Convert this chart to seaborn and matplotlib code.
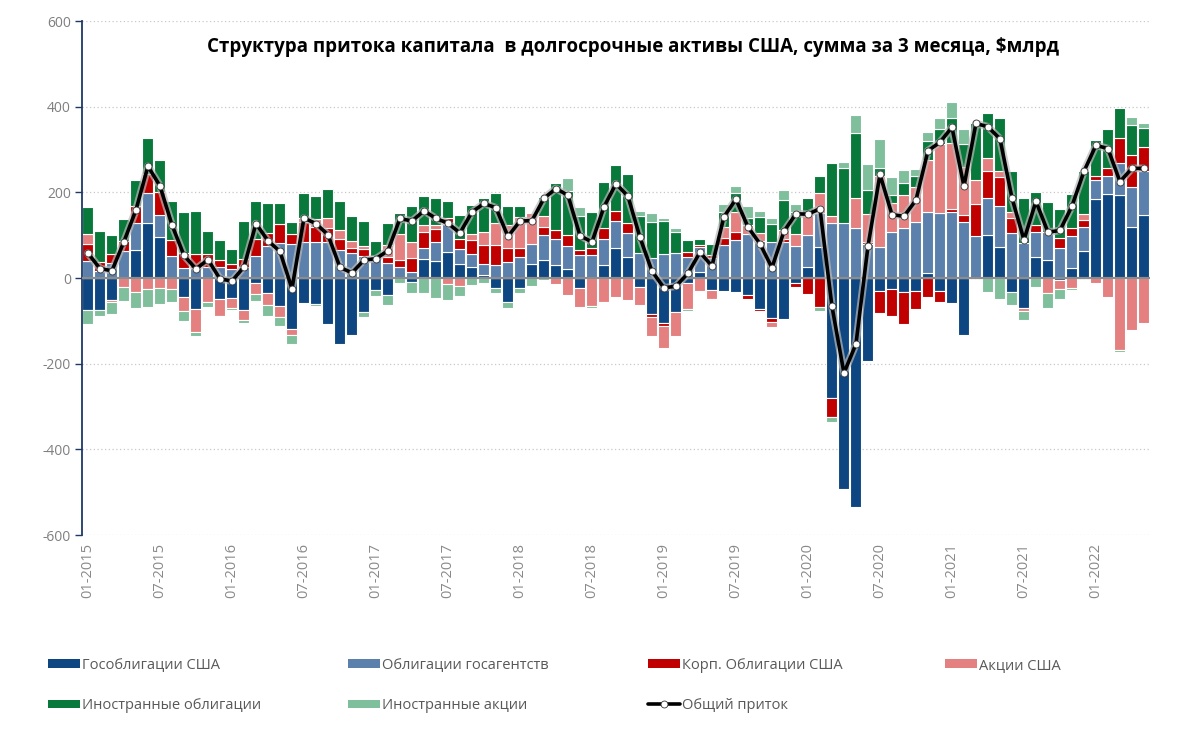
import numpy as np
import pandas as pd
import matplotlib
matplotlib.use("Agg")
import matplotlib.pyplot as plt
from matplotlib.patches import Patch
from matplotlib.lines import Line2D
import seaborn as sns

# monthly data, 3-month sums, $bn (01-2015 .. 05-2022)
months = pd.date_range("2015-01-01", periods=89, freq="MS").strftime("%m-%Y").tolist()

ust = [-74, -75, -51, 0, 65, 129, 95, 0, -45, -72,
       0, -50, -47, -75, -11, -36, -65, -120, -58, -61,
       -108, -155, -133, -80, -28, -40, 0, -10, 44, 40,
       61, 33, 26, 7, -24, -55, -24, 33, 42, 30,
       20, -24, 0, 30, 69, 50, -22, -84, -106, -79,
       -12, 15, -28, -30, -32, -40, -73, -94, -96, -12,
       26, 73, -280, -493, -534, -193, -30, -26, -32, -30,
       12, -30, -58, -133, 0, 100, 73, -32, -70, 50,
       42, -5, 23, 64, 184, 195, 194, 120, 147]
agency = [40, 17, 34, 64, 64, 70, 52, 52, 23, 23,
          26, 26, 20, 26, 52, 75, 81, 79, 83, 83,
          83, 65, 59, 52, 52, 36, 26, 15, 25, 43,
          64, 35, 31, 26, 30, 38, 50, 47, 58, 60,
          54, 54, 54, 62, 64, 56, 58, 46, 56, 58,
          48, 58, 46, 78, 89, 103, 86, 85, 83, 75,
          74, 78, 129, 128, 116, 80, 73, 108, 116, 131,
          142, 151, 155, 131, 98, 86, 96, 104, 81, 58,
          65, 69, 74, 54, 45, 44, 75, 92, 103]
corp = [40, 20, 23, 23, 39, 43, 54, 37, 35, 33,
        29, 16, 12, 18, 40, 31, 44, 23, 48, 37,
        33, 25, 12, 15, 0, 12, 16, 31, 39, 31,
        15, 23, 31, 43, 47, 31, 19, 0, 20, 23,
        27, 12, 16, 25, 23, 22, 0, -8, -5, 0,
        13, 4, 8, 16, 18, -10, -4, -8, 8, -10,
        -37, -67, -45, 0, 0, 5, -52, -62, -76, -43,
        -45, -27, 5, 17, 74, 65, 68, 37, 0, 16,
        0, 25, 19, 17, 9, 17, 58, 76, 56]
us_equity = [23, 0, -6, -20, -32, -26, -24, -26, -31, -53,
             -55, -38, -22, -23, -26, -27, -25, -14, 10, 17,
             23, 22, 16, 7, 0, 30, 60, 37, 16, 10,
             -14, -18, 14, 31, 51, 54, 74, 72, 25, -14,
             -40, -43, -66, -55, -45, -52, -40, -43, -52, -56,
             -61, -30, -22, 24, 46, 20, 20, -13, 20, 28,
             48, 47, 15, 0, 70, 65, 165, 66, 78, 82,
             121, 163, 155, 112, 56, 30, 14, 12, -6, 0,
             -35, -21, -24, 14, -12, -45, -168, -121, -105]
foreign_bonds = [62, 73, 44, 51, 62, 86, 75, 90, 95, 100,
                 55, 47, 35, 88, 88, 70, 49, 28, 57, 55,
                 70, 68, 58, 60, 35, 50, 49, 86, 67, 62,
                 40, 57, 68, 79, 70, 45, 26, 0, 45, 110,
                 101, 79, 85, 108, 109, 115, 86, 84, 76, 50,
                 27, 13, 26, 36, 45, 18, 37, 40, 70, 52,
                 38, 40, 125, 128, 153, 55, 18, 19, 28, 26,
                 44, 33, 58, 54, 133, 105, 123, 97, 105, 76,
                 70, 66, 80, 100, 84, 91, 70, 70, 45]
foreign_equity = [-33, -13, -27, -33, -39, -41, -37, -29, -24, -10,
                  -12, -3, -5, -8, -16, -26, -22, -21, 0, -4,
                  0, 0, 0, -12, -14, -24, -12, -26, -34, -47,
                  -38, -25, -16, -12, -10, -16, -12, -18, -4, 0,
                  31, 21, -5, -4, 0, 0, 13, 21, 8, 8,
                  -4, 0, -2, 19, 18, 28, 14, 14, 24, 17,
                  0, -9, -10, 15, 41, 62, 68, 43, 30, 16,
                  23, 27, 37, 33, 0, -33, -49, -31, -21, -21,
                  -35, -23, -4, 0, 0, 0, -4, 19, 10]

labels = ["Гособлигации США", "Облигации госагентств", "Корп. Облигации США",
          "Акции США", "Иностранные облигации", "Иностранные акции"]
colors = ["#0d4680", "#5a80ab", "#c00000", "#e48080", "#08793a", "#80bf9c"]
total_label = "Общий приток"
title = "Структура притока капитала  в долгосрочные активы США, сумма за 3 месяца, $млрд"

df = pd.DataFrame({"month": months, labels[0]: ust, labels[1]: agency, labels[2]: corp,
                   labels[3]: us_equity, labels[4]: foreign_bonds, labels[5]: foreign_equity})
df["total"] = df[labels].sum(axis=1)

sns.set_theme(style="white")
plt.rcParams["font.family"] = ["Open Sans", "DejaVu Sans"]
plt.rcParams["axes.unicode_minus"] = False

fig = plt.figure(figsize=(12, 7.3), dpi=100)
ax = fig.add_axes([0.0683, 0.2671, 0.89, 0.7041])

x = np.arange(len(df))
pos_base = np.zeros(len(df))
neg_base = np.zeros(len(df))
for name, color in zip(labels, colors):
    v = df[name].to_numpy(dtype=float)
    bottom = np.where(v >= 0, pos_base, neg_base)
    m = v != 0
    ax.bar(x[m], v[m], bottom=bottom[m], width=0.92, color=color,
           edgecolor="white", linewidth=0.8, zorder=2)
    pos_base += np.clip(v, 0, None)
    neg_base += np.clip(v, None, 0)

ax.axhline(0, color="#8c8c8c", lw=1.6, zorder=3)

# total line with light halo
ax.plot(x, df["total"], color="#b9b9b9", lw=5.5, alpha=0.7, zorder=4, solid_capstyle="round")
sns.lineplot(x=x, y=df["total"].to_numpy(), ax=ax, color="black", lw=2.6, marker="o",
             markersize=5, markerfacecolor="white", markeredgecolor="#333333",
             markeredgewidth=0.6, zorder=5)

ax.set_xlim(-0.5, len(df) - 0.5)
ax.set_ylim(-600, 600)
ax.set_yticks(range(-600, 601, 200))
ax.yaxis.grid(True, color="#c8c8c8", linestyle=(0, (1, 2)), lw=0.9)
ax.set_axisbelow(True)
ax.tick_params(axis="y", direction="out", length=5, width=1, color="#1f3864",
               labelsize=10, labelcolor="#7f7f7f", pad=3, left=True)
ax.set_xticks(x[::6])
ax.set_xticklabels(df["month"][::6], rotation=90, fontsize=10.5, color="#8a8a8a")
ax.tick_params(axis="x", length=0, pad=6)
for s in ["top", "right", "bottom"]:
    ax.spines[s].set_visible(False)
ax.spines["left"].set_color("#1f3864")
ax.spines["left"].set_linewidth(1.3)
ax.set_xlabel("")
ax.set_ylabel("")

fig.text(0.5275, 0.936, title, ha="center", va="center", fontsize=13.5,
         fontweight="bold", color="black")

# legend: 4 columns laid out like the original
handles = [Patch(facecolor=c, edgecolor="none") for c in colors]
line_h = Line2D([0], [0], color="black", lw=2.6, marker="o", markersize=5,
                markerfacecolor="white", markeredgecolor="#333333", markeredgewidth=0.6)
cols = [([handles[0], handles[4]], [labels[0], labels[4]], 0.040),
        ([handles[1], handles[5]], [labels[1], labels[5]], 0.290),
        ([handles[2], line_h], [labels[2], total_label], 0.540),
        ([handles[3]], [labels[3]], 0.7875)]
for hs, ls, xpos in cols:
    fig.legend(hs, ls, loc="upper left", bbox_to_anchor=(xpos, 0.099), frameon=False,
               borderaxespad=0, borderpad=0, fontsize=10.5, labelcolor="#595959",
               handlelength=2.2, handleheight=0.55, handletextpad=0.15, labelspacing=1.75)

fig.savefig("out.png", dpi=100, facecolor="white")
